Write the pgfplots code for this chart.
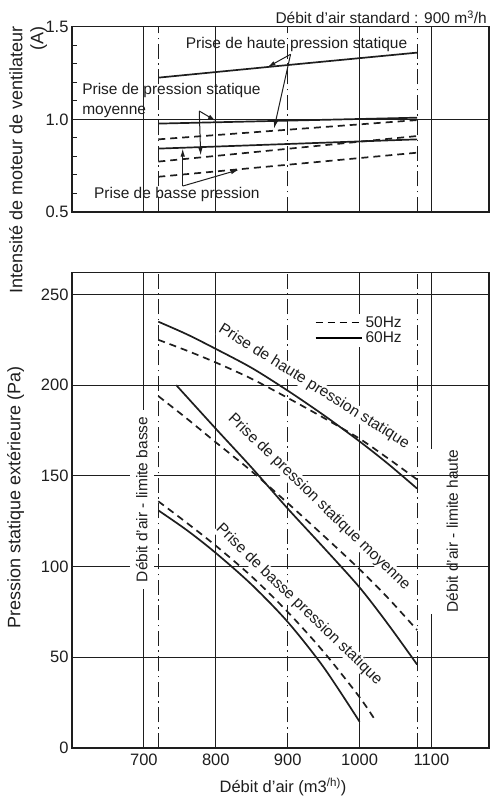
\documentclass[border=0pt]{standalone}
\usepackage{fontspec}
\setmainfont{Liberation Sans}
\usepackage{pgfplots}
\pgfplotsset{compat=1.18}
\usetikzlibrary{arrows.meta}
\definecolor{ink}{RGB}{30,30,30}
\newcommand\fs{\fontsize{15.5}{18}\selectfont}
\newcommand\tf{\fontsize{16.5}{19}\selectfont}
\newcommand\lf{\fontsize{18}{21}\selectfont}
\tikzset{
  dashdot/.style={line width=1.2pt, dash pattern=on 15pt off 4.5pt on 1.5pt off 4.5pt},
  grd/.style={line width=1.2pt},
  c60/.style={line width=1.7pt},
  c50/.style={line width=1.7pt, dash pattern=on 7pt off 5pt},
  arr/.style={line width=1pt, -{Latex[length=8pt,width=4.5pt]}},
}
\begin{document}
\begin{tikzpicture}[x=1pt,y=1pt,color=ink]
\useasboundingbox (-72pt,-50pt) rectangle (421pt,748pt);

% ---------------- bottom axis: pressure ----------------
\begin{axis}[
  at={(0pt,0pt)}, anchor=south west,
  scale only axis, width=417pt, height=475.3pt,
  xmin=600, xmax=1180, ymin=0, ymax=262,
  axis line style={line width=1.4pt, color=ink},
  xtick={700,800,900,1000,1100}, ytick={0,50,100,150,200,250},
  major tick length=0pt,
  tick label style={font=\tf, color=ink},
  xticklabel style={yshift=-2pt},
  /pgf/number format/assume math mode=true,
  /pgf/number format/1000 sep={},
  legend style={at={(axis cs:934.7,239.5)}, anchor=north west, draw=none, fill=white,
    inner xsep=2pt, inner ysep=1.5pt, font=\fs, row sep=1.5pt, nodes={inner xsep=3pt, inner ysep=1pt}},
  legend cell align=left,
  legend image code/.code={\draw[#1] (0pt,0pt) -- (46pt,0pt);},
]
% grid
\draw[grd] (axis cs:600,50) -- (axis cs:1180,50);
\draw[grd] (axis cs:600,100) -- (axis cs:1180,100);
\draw[grd] (axis cs:600,150) -- (axis cs:1180,150);
\draw[grd] (axis cs:600,200) -- (axis cs:1180,200);
\draw[grd] (axis cs:600,250) -- (axis cs:1180,250);
\draw[grd] (axis cs:700,0) -- (axis cs:700,262);
\draw[grd] (axis cs:800,0) -- (axis cs:800,262);
\draw[grd] (axis cs:1000,0) -- (axis cs:1000,262);
\draw[grd] (axis cs:1100,0) -- (axis cs:1100,74);
\draw[grd] (axis cs:1100,165) -- (axis cs:1100,262);
\draw[dashdot] (axis cs:720,0) -- (axis cs:720,262);
\draw[dashdot] (axis cs:900,0) -- (axis cs:900,262);
\draw[dashdot] (axis cs:1080,0) -- (axis cs:1080,262);
% labels
\node[rotate=90, fill=white, inner xsep=6.5pt, inner ysep=6pt, font=\fs] at (axis cs:697,137) {Débit d'air - limite basse};
\node[rotate=90, inner sep=1pt, font=\fs] at (axis cs:1129,119.7) {Débit d'air - limite haute};
\node[rotate=-32, fill=white, inner sep=0.5pt, font=\fs] at (axis cs:936.6,199.2) {Prise de haute pression statique};
\node[rotate=-44, fill=white, inner sep=0.5pt, font=\fs] at (axis cs:943.5,135.5) {Prise de pression statique moyenne};
\node[rotate=-44, fill=white, inner sep=0.5pt, font=\fs] at (axis cs:915.7,79.1) {Prise de basse pression statique};
% curves
\addplot[c50, smooth] coordinates {(720,225) (760,219) (800,212.5) (850,203.5) (900,193) (950,182) (1000,170.5) (1040,159.5) (1080,148)};
\addlegendentry{50Hz}
\addplot[c60, smooth] coordinates {(720,235) (760,228) (800,220) (850,209.5) (900,197) (950,183.5) (1000,169) (1040,156.5) (1080,143)};
\addlegendentry{60Hz}
\addplot[c60, smooth, forget plot] coordinates {(745,200) (800,176) (850,154.5) (900,132) (950,110.5) (1000,88.5) (1040,68) (1080,46)};
\addplot[c50, smooth, forget plot] coordinates {(720,194) (760,181.5) (800,168.5) (850,152.5) (900,135) (950,117) (1000,98.5) (1040,82.5) (1080,65)};
\addplot[c60, smooth, forget plot] coordinates {(720,131) (760,120) (800,107.5) (850,90) (900,69.5) (950,44.5) (1000,14.5)};
\addplot[c50, smooth, forget plot] coordinates {(720,136) (760,124) (800,111.5) (850,94.5) (900,75) (950,53) (1000,28) (1023,14.5)};
\end{axis}

% ---------------- top axis: current ----------------
\begin{axis}[
  at={(0pt,536pt)}, anchor=south west,
  scale only axis, width=417pt, height=185.3pt,
  xmin=600, xmax=1180, ymin=0.5, ymax=1.5,
  axis line style={line width=1.4pt, color=ink},
  xtick=\empty,
  ytick={0.5,1.0,1.5}, yticklabels={0.5,1.0,1.5},
  minor ytick={0.6,0.7,0.8,0.9,1.1,1.2,1.3,1.4},
  ytick pos=left, tick align=inside,
  major tick length=0pt, minor tick length=5pt,
  every tick/.style={line width=1pt, color=ink},
  tick label style={font=\tf, color=ink},
  /pgf/number format/assume math mode=true,
]
\draw[grd] (axis cs:600,1.0) -- (axis cs:1180,1.0);
\draw[grd] (axis cs:700,0.5) -- (axis cs:700,1.5);
\draw[grd] (axis cs:800,0.5) -- (axis cs:800,1.5);
\draw[grd] (axis cs:1000,0.5) -- (axis cs:1000,1.5);
\draw[grd] (axis cs:1100,0.5) -- (axis cs:1100,1.5);
\draw[dashdot] (axis cs:720,0.5) -- (axis cs:720,1.5);
\draw[dashdot] (axis cs:900,0.5) -- (axis cs:900,1.5);
\draw[dashdot] (axis cs:1080,0.5) -- (axis cs:1080,1.5);
% text
\node[anchor=west, inner sep=0pt, font=\fs] at (axis cs:758,1.405) {Prise de haute pression statique};
\node[anchor=west, inner sep=0pt, font=\fs] at (axis cs:614,1.157) {Prise de pression statique};
\node[anchor=west, inner sep=0pt, font=\fs] at (axis cs:614,1.038) {moyenne};
\node[anchor=west, inner sep=0pt, font=\fs] at (axis cs:630.5,0.595) {Prise de basse pression};
% curves
\addplot[c60] coordinates {(720,1.225) (900,1.293) (1080,1.36)};
\addplot[c60] coordinates {(720,0.977) (1080,1.009)};
\addplot[c50] coordinates {(720,0.892) (1080,0.996)};
\addplot[c60] coordinates {(720,0.842) (1080,0.892)};
\addplot[c50] coordinates {(720,0.772) (1080,0.910)};
\addplot[c50] coordinates {(720,0.690) (1080,0.820)};
% arrows
\draw[arr] (axis cs:904,1.351) -- (axis cs:872,1.282);
\draw[arr] (axis cs:904,1.351) -- (axis cs:881,0.950);
\draw[arr] (axis cs:777,1.045) -- (axis cs:800,0.992);
\draw[arr] (axis cs:777,1.045) -- (axis cs:779,0.805);
\draw[arr] (axis cs:754,0.64) -- (axis cs:754,0.842);
\draw[arr] (axis cs:754,0.64) -- (axis cs:832,0.728);
\end{axis}

% outer texts
\node[anchor=base east, inner sep=0pt, font=\fs] at (415pt,724pt) {Débit d'air standard : 900 m\textsuperscript{3}/h};
\node[rotate=90, anchor=north east, align=right, inner sep=0pt, font=\lf] at (-63pt,722pt) {Intensité de moteur de ventilateur\\(A)};
\node[rotate=90, inner sep=0pt, font=\lf] at (-56.5pt,250.5pt) {Pression statique extérieure (Pa)};
\node[anchor=base, inner sep=0pt, font=\tf] at (211pt,-45pt) {Débit d'air (m3\textsuperscript{/h)})};
\end{tikzpicture}
\end{document}
